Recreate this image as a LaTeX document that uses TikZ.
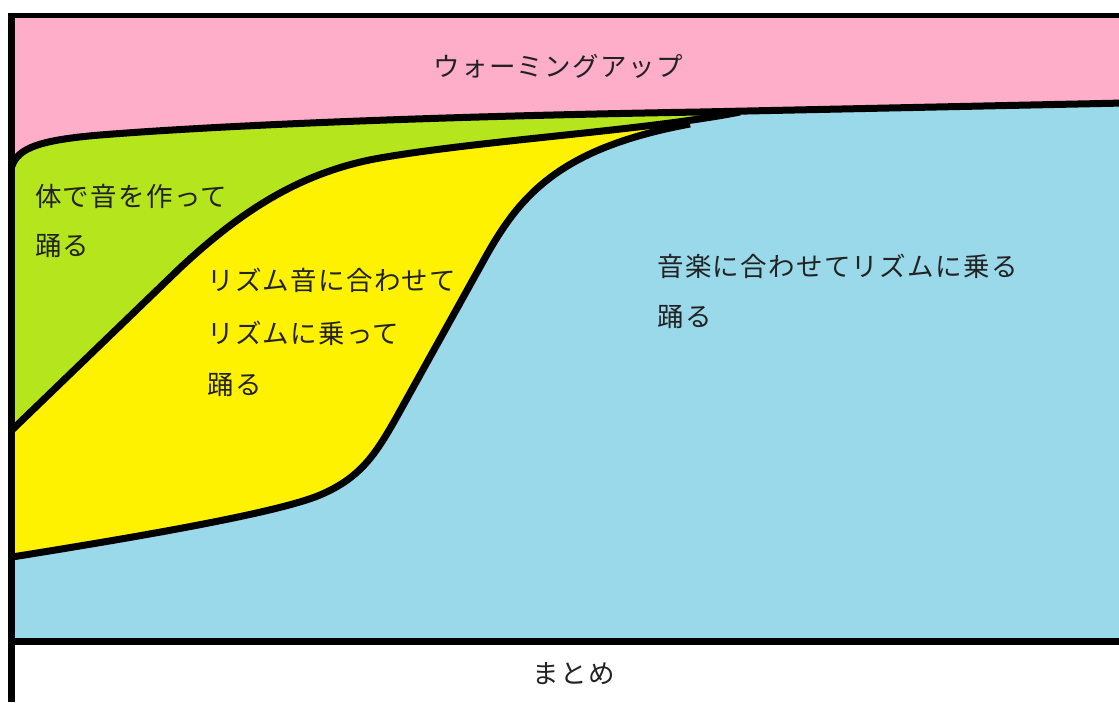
\documentclass[tikz,border=0pt]{standalone}
\usepackage{fontspec}
\newfontfamily\jpfont[LetterSpace=5]{Noto Sans CJK JP}
\definecolor{pinkc}{RGB}{255,174,201}
\definecolor{greenc}{RGB}{181,230,29}
\definecolor{yellowc}{RGB}{255,242,0}
\definecolor{bluec}{RGB}{153,217,234}
\definecolor{txt}{RGB}{34,34,34}
\tikzset{
  lbl/.style={inner sep=0pt, text=txt, font=\jpfont\fontsize{26.5}{30}\selectfont},
  curveline/.style={draw=black, line width=7pt, line join=round},
  frameline/.style={draw=black, line width=7pt}
}
\begin{document}
\begin{tikzpicture}[x=1pt,y=-1pt]
\useasboundingbox (0,0) rectangle (1119,702);
\fill[white] (0,0) rectangle (1119,702);
% pink base
\fill[pinkc] (11,15) rectangle (1119,642);
% green
\fill[greenc] (12,166) .. controls (18,148) and (40,140) .. (100,135)
  .. controls (200,127) and (400,117) .. (700,112) -- (1119,103)
  -- (1119,642) -- (12,642) -- cycle;
% yellow
\fill[yellowc] (12,430) -- (180,268) .. controls (240,212) and (300,172) .. (380,158)
  .. controls (480,140.5) and (650,130) .. (740,112) -- (1119,103)
  -- (1119,642) -- (12,642) -- cycle;
% blue
\fill[bluec] (12,557) .. controls (150,535) and (280,512) .. (320,495)
  .. controls (360,478) and (375,455) .. (395,420) -- (485,258)
  .. controls (520,195) and (560,148) .. (690,124) -- (740,112) -- (1119,103)
  -- (1119,642) -- (12,642) -- cycle;
% curves
\draw[curveline] (12,166) .. controls (18,148) and (40,140) .. (100,135)
  .. controls (200,127) and (400,117) .. (700,112) -- (1125,103);
\draw[curveline] (12,430) -- (180,268) .. controls (240,212) and (300,172) .. (380,158)
  .. controls (480,140.5) and (650,130) .. (740,112);
\draw[curveline] (12,557) .. controls (150,535) and (280,512) .. (320,495)
  .. controls (360,478) and (375,455) .. (395,420) -- (485,258)
  .. controls (520,195) and (560,148) .. (690,124);
% frame
\draw[black, line width=5pt] (8,15) -- (1119,15);
\draw[frameline] (8,641.5) -- (1119,641.5);
\draw[frameline] (11.5,12.5) -- (11.5,702);
% labels
\node[lbl] (warm) at (558,66) {ウォーミングアップ};
\node[lbl, anchor=west] (body1) at (35,196) {体で音を作って};
\node[lbl, anchor=west] (body2) at (35,246) {踊る};
\node[lbl, anchor=west] (rhy1) at (207,280) {リズム音に合わせて};
\node[lbl, anchor=west] (rhy2) at (207,333) {リズムに乗って};
\node[lbl, anchor=west] (rhy3) at (207,385) {踊る};
\node[lbl, anchor=west] (mus1) at (657,266) {音楽に合わせてリズムに乗る};
\node[lbl, anchor=west] (mus2) at (657,317) {踊る};
\node[lbl] (summ) at (574,674) {まとめ};
\end{tikzpicture}
\end{document}
